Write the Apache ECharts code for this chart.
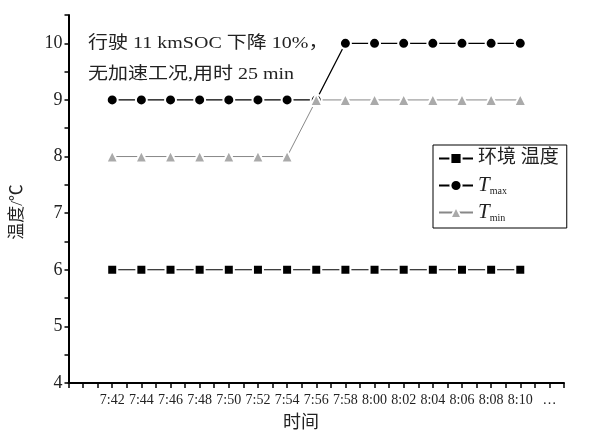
<!DOCTYPE html>
<html><head><meta charset="utf-8">
<script src="https://cdn.jsdelivr.net/npm/echarts@6/dist/echarts.min.js"></script>
<style>html,body{margin:0;padding:0;background:#fff}#c{width:616px;height:436px}</style>
</head><body><div id="c"></div>
<script>
const categories = ['7:42','7:44','7:46','7:48','7:50','7:52','7:54','7:56','7:58','8:00','8:02','8:04','8:06','8:08','8:10','…'];
const ambient = [6,6,6,6,6,6,6,6,6,6,6,6,6,6,6];
const tmax = [9,9,9,9,9,9,9,9,10,10,10,10,10,10,10];
const tmin = [8,8,8,8,8,8,8,9,9,9,9,9,9,9,9];
const yTicks = [4,5,6,7,8,9,10];

const serif = '"Liberation Serif","Noto Sans CJK SC",serif';
const pts = arr => arr.map((v,i)=>[i,v]);
const chart = echarts.init(document.getElementById('c'));
chart.setOption({
  animation:false,
  backgroundColor:'#fff',
  grid:{left:68.5,right:52,top:15,bottom:53,containLabel:false},
  xAxis:{type:'value',min:-1.5,max:15.5,interval:0.5,
    axisLine:{onZero:false,lineStyle:{color:'#000',width:2}},
    axisTick:{show:true,length:5,inside:false,lineStyle:{color:'#000',width:1.5}},
    axisLabel:{fontFamily:serif,fontSize:14,color:'#222',margin:10,showMinLabel:true,showMaxLabel:true,
      formatter:v=>{const i=Math.round(v*2)/2;return (Number.isInteger(i)&&i>=0&&i<categories.length)?categories[i]:'';}},
    splitLine:{show:false}},
  yAxis:{type:'value',min:4,max:10.5,interval:0.5,
    axisLine:{show:true,onZero:false,lineStyle:{color:'#000',width:2}},
    axisTick:{show:true,length:4,lineStyle:{color:'#000',width:1.5}},
    axisLabel:{fontFamily:serif,fontSize:18,color:'#222',margin:6,
      formatter:v=>yTicks.includes(v)?String(v):''},
    splitLine:{show:false}},
  legend:{orient:'vertical',left:433,top:145,
    borderColor:'#000',borderWidth:1,padding:[3,8,5,5],
    itemWidth:34,itemHeight:14,itemGap:6,
    textStyle:{fontFamily:serif,fontSize:19,color:'#222',lineHeight:21,
      rich:{i:{fontFamily:serif,fontStyle:'italic',fontSize:21,color:'#222',lineHeight:21},
            s:{fontFamily:serif,fontSize:10,color:'#222',verticalAlign:'bottom',lineHeight:21,padding:[10,0,0,0]}}},
    formatter:n=>n==='Tmax'?'{i|T}{s|max}':(n==='Tmin'?'{i|T}{s|min}':n),
    data:['环境 温度','Tmax','Tmin']},
  graphic:[
    {type:'text',x:88,y:43,scaleY:0.88,style:{text:'行驶 11 kmSOC 下降 10%，',font:'20px '+serif,fill:'#222',verticalAlign:'middle'}},
    {type:'text',x:88,y:74,scaleY:0.88,style:{text:'无加速工况,用时 25 min',font:'20px '+serif,fill:'#222',verticalAlign:'middle'}},
    {type:'text',x:301,y:423,style:{text:'时间',font:'18px '+serif,fill:'#222',align:'center',verticalAlign:'middle'}},
    {type:'text',x:18,y:212,rotation:Math.PI/2,style:{text:'温度/℃',font:'17px '+serif,fill:'#222',align:'center',verticalAlign:'middle'}}
  ],
  series:[
    {name:'环境 温度',type:'line',data:pts(ambient),symbol:'rect',symbolSize:10,
      lineStyle:{color:'#000',width:1.2},itemStyle:{color:'#000',borderColor:'#fff',borderWidth:2}},
    {name:'Tmax',type:'line',data:pts(tmax),symbol:'circle',symbolSize:11,
      lineStyle:{color:'#000',width:1.3},itemStyle:{color:'#000',borderColor:'#fff',borderWidth:2}},
    {name:'Tmin',type:'line',data:pts(tmin),symbol:'triangle',symbolSize:12,
      lineStyle:{color:'#888',width:1},itemStyle:{color:'#aaa',borderColor:'#fff',borderWidth:2}}
  ]
});
</script></body></html>
